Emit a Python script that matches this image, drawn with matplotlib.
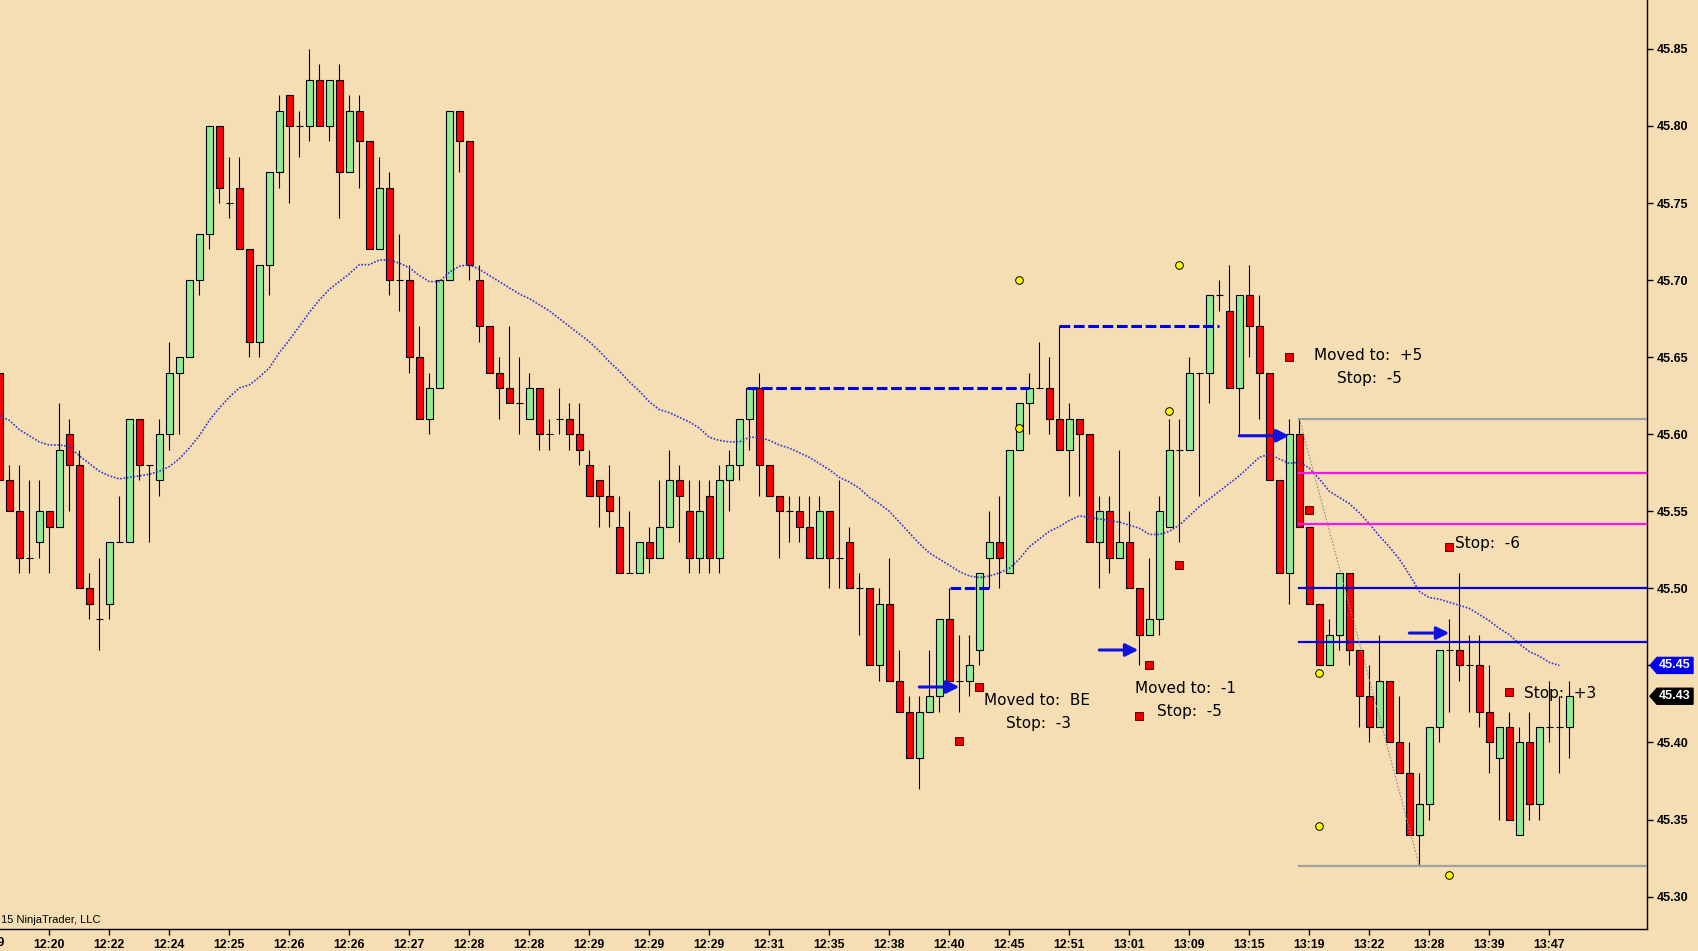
import matplotlib
matplotlib.use('Agg')
import matplotlib.pyplot as plt
import matplotlib.transforms as mtransforms
from matplotlib.patches import Polygon
import numpy as np

# ---------------- data ----------------
opens = [45.64, 45.57, 45.55, 45.52, 45.53, 45.55, 45.54, 45.60, 45.58, 45.50,
         45.48, 45.49, 45.53, 45.53, 45.61, 45.58, 45.57, 45.60, 45.64, 45.65,
         45.70, 45.73, 45.80, 45.75, 45.76, 45.72, 45.66, 45.71, 45.77, 45.82,
         45.80, 45.80, 45.83, 45.80, 45.83, 45.77, 45.81, 45.79, 45.72, 45.76,
         45.70, 45.70, 45.65, 45.61, 45.63, 45.70, 45.81, 45.79, 45.70, 45.67,
         45.64, 45.63, 45.62, 45.61, 45.63, 45.60, 45.61, 45.61, 45.60, 45.58,
         45.57, 45.56, 45.54, 45.51, 45.51, 45.53, 45.52, 45.54, 45.57, 45.55,
         45.52, 45.56, 45.52, 45.57, 45.58, 45.61, 45.63, 45.58, 45.56, 45.55,
         45.55, 45.54, 45.52, 45.55, 45.52, 45.53, 45.50, 45.50, 45.45, 45.49,
         45.44, 45.42, 45.39, 45.42, 45.43, 45.48, 45.44, 45.44, 45.46, 45.52,
         45.53, 45.51, 45.59, 45.62, 45.63, 45.63, 45.61, 45.59, 45.61, 45.60,
         45.53, 45.55, 45.52, 45.53, 45.50, 45.47, 45.48, 45.54, 45.59, 45.59,
         45.64, 45.64, 45.69, 45.68, 45.63, 45.69, 45.67, 45.64, 45.57, 45.51,
         45.60, 45.54, 45.49, 45.45, 45.47, 45.51, 45.46, 45.43, 45.41, 45.44,
         45.40, 45.38, 45.34, 45.36, 45.41, 45.46, 45.46, 45.45, 45.45, 45.42,
         45.39, 45.41, 45.34, 45.40, 45.36, 45.41, 45.41, 45.41]
highs = [45.64, 45.58, 45.58, 45.57, 45.57, 45.55, 45.62, 45.61, 45.59, 45.51,
         45.52, 45.53, 45.56, 45.61, 45.61, 45.58, 45.61, 45.66, 45.65, 45.70,
         45.73, 45.80, 45.80, 45.78, 45.78, 45.72, 45.71, 45.77, 45.82, 45.82,
         45.81, 45.85, 45.84, 45.83, 45.84, 45.82, 45.82, 45.79, 45.78, 45.77,
         45.73, 45.71, 45.67, 45.64, 45.70, 45.81, 45.81, 45.79, 45.71, 45.67,
         45.65, 45.67, 45.65, 45.64, 45.63, 45.61, 45.63, 45.62, 45.62, 45.59,
         45.57, 45.58, 45.56, 45.55, 45.53, 45.54, 45.57, 45.59, 45.58, 45.57,
         45.57, 45.57, 45.58, 45.59, 45.61, 45.63, 45.64, 45.58, 45.56, 45.56,
         45.56, 45.56, 45.56, 45.55, 45.57, 45.54, 45.51, 45.50, 45.50, 45.52,
         45.46, 45.43, 45.43, 45.46, 45.48, 45.50, 45.47, 45.47, 45.51, 45.55,
         45.56, 45.59, 45.62, 45.64, 45.66, 45.65, 45.67, 45.62, 45.61, 45.60,
         45.56, 45.56, 45.59, 45.55, 45.50, 45.52, 45.56, 45.61, 45.61, 45.65,
         45.64, 45.69, 45.70, 45.71, 45.69, 45.71, 45.69, 45.64, 45.57, 45.61,
         45.61, 45.54, 45.49, 45.48, 45.51, 45.51, 45.46, 45.45, 45.47, 45.44,
         45.43, 45.40, 45.38, 45.41, 45.46, 45.48, 45.51, 45.47, 45.47, 45.45,
         45.41, 45.42, 45.41, 45.42, 45.41, 45.44, 45.43, 45.44]
lows = [45.57, 45.55, 45.51, 45.51, 45.52, 45.51, 45.54, 45.55, 45.50, 45.48,
        45.46, 45.48, 45.53, 45.53, 45.57, 45.53, 45.56, 45.59, 45.60, 45.65,
        45.69, 45.72, 45.75, 45.74, 45.72, 45.65, 45.65, 45.69, 45.76, 45.75,
        45.78, 45.79, 45.80, 45.79, 45.74, 45.77, 45.76, 45.72, 45.72, 45.69,
        45.68, 45.64, 45.61, 45.60, 45.63, 45.70, 45.77, 45.70, 45.66, 45.64,
        45.61, 45.62, 45.60, 45.61, 45.59, 45.59, 45.60, 45.59, 45.58, 45.56,
        45.54, 45.54, 45.51, 45.51, 45.51, 45.51, 45.52, 45.54, 45.53, 45.51,
        45.51, 45.51, 45.51, 45.55, 45.57, 45.59, 45.56, 45.56, 45.52, 45.53,
        45.53, 45.52, 45.52, 45.50, 45.50, 45.50, 45.47, 45.45, 45.44, 45.44,
        45.42, 45.39, 45.37, 45.42, 45.42, 45.44, 45.42, 45.43, 45.45, 45.50,
        45.50, 45.51, 45.59, 45.60, 45.63, 45.60, 45.59, 45.56, 45.56, 45.53,
        45.50, 45.51, 45.52, 45.50, 45.45, 45.47, 45.47, 45.54, 45.53, 45.59,
        45.56, 45.62, 45.68, 45.63, 45.60, 45.65, 45.61, 45.57, 45.51, 45.49,
        45.54, 45.49, 45.45, 45.45, 45.46, 45.45, 45.41, 45.40, 45.41, 45.40,
        45.38, 45.34, 45.32, 45.35, 45.40, 45.42, 45.44, 45.42, 45.41, 45.38,
        45.35, 45.35, 45.34, 45.35, 45.35, 45.40, 45.38, 45.39]
closes = [45.57, 45.55, 45.52, 45.52, 45.55, 45.54, 45.59, 45.58, 45.50, 45.49,
          45.48, 45.53, 45.53, 45.61, 45.58, 45.58, 45.60, 45.64, 45.65, 45.70,
          45.73, 45.80, 45.76, 45.75, 45.72, 45.66, 45.71, 45.77, 45.81, 45.80,
          45.80, 45.83, 45.80, 45.83, 45.77, 45.81, 45.79, 45.72, 45.76, 45.70,
          45.70, 45.65, 45.61, 45.63, 45.70, 45.81, 45.79, 45.71, 45.67, 45.64,
          45.63, 45.62, 45.62, 45.63, 45.60, 45.60, 45.61, 45.60, 45.59, 45.56,
          45.56, 45.55, 45.51, 45.51, 45.53, 45.52, 45.54, 45.57, 45.56, 45.52,
          45.55, 45.52, 45.57, 45.58, 45.61, 45.63, 45.58, 45.56, 45.55, 45.55,
          45.54, 45.52, 45.55, 45.52, 45.52, 45.50, 45.50, 45.45, 45.49, 45.44,
          45.42, 45.39, 45.42, 45.43, 45.48, 45.44, 45.44, 45.45, 45.51, 45.53,
          45.52, 45.59, 45.62, 45.63, 45.63, 45.61, 45.59, 45.61, 45.60, 45.53,
          45.55, 45.52, 45.53, 45.50, 45.47, 45.48, 45.55, 45.59, 45.59, 45.64,
          45.64, 45.69, 45.69, 45.63, 45.69, 45.67, 45.64, 45.57, 45.51, 45.60,
          45.54, 45.49, 45.45, 45.47, 45.51, 45.46, 45.43, 45.41, 45.44, 45.40,
          45.38, 45.34, 45.36, 45.41, 45.46, 45.46, 45.45, 45.45, 45.42, 45.40,
          45.41, 45.35, 45.40, 45.36, 45.41, 45.41, 45.41, 45.43]

moving_avg = [45.612, 45.609, 45.603, 45.599, 45.595, 45.593, 45.593, 45.592, 45.586, 45.581,
              45.576, 45.573, 45.571, 45.572, 45.573, 45.574, 45.576, 45.579, 45.584, 45.591,
              45.599, 45.609, 45.617, 45.624, 45.630, 45.632, 45.637, 45.643, 45.653, 45.661,
              45.670, 45.679, 45.687, 45.694, 45.699, 45.704, 45.710, 45.710, 45.713, 45.713,
              45.711, 45.708, 45.703, 45.699, 45.699, 45.705, 45.709, 45.710, 45.707, 45.703,
              45.699, 45.695, 45.691, 45.688, 45.684, 45.680, 45.675, 45.670, 45.665, 45.660,
              45.654, 45.647, 45.641, 45.634, 45.628, 45.621, 45.616, 45.614, 45.611, 45.608,
              45.604, 45.598, 45.596, 45.595, 45.595, 45.598, 45.598, 45.596, 45.593, 45.591,
              45.588, 45.585, 45.581, 45.577, 45.572, 45.569, 45.565, 45.559, 45.555, 45.550,
              45.543, 45.536, 45.529, 45.523, 45.519, 45.515, 45.511, 45.508, 45.507, 45.508,
              45.510, 45.513, 45.519, 45.527, 45.532, 45.537, 45.540, 45.544, 45.547, 45.546,
              45.545, 45.544, 45.543, 45.541, 45.539, 45.535, 45.535, 45.537, 45.541, 45.547,
              45.553, 45.558, 45.563, 45.568, 45.573, 45.579, 45.585, 45.587, 45.584, 45.581,
              45.582, 45.578, 45.571, 45.563, 45.559, 45.555, 45.549, 45.542, 45.534, 45.527,
              45.519, 45.509, 45.498, 45.494, 45.493, 45.491, 45.489, 45.487, 45.483, 45.479,
              45.474, 45.470, 45.464, 45.459, 45.456, 45.452, 45.450]

tick_positions = [5, 11, 17, 23, 29, 35, 41, 47, 53, 59, 65, 71, 77, 83, 89, 95,
                  101, 107, 113, 119, 125, 131, 137, 143, 149, 155]
tick_labels = ['12:20', '12:22', '12:24', '12:25', '12:26', '12:26', '12:27', '12:28',
               '12:28', '12:29', '12:29', '12:29', '12:31', '12:35', '12:38', '12:40',
               '12:45', '12:51', '13:01', '13:09', '13:15', '13:19', '13:22', '13:28',
               '13:39', '13:47']
price_ticks = [45.30, 45.35, 45.40, 45.45, 45.50, 45.55, 45.60, 45.65, 45.70, 45.75, 45.80, 45.85]

# dashed entry lines: (start bar, end bar, price)
dash_x0 = [74.8, 95.1, 106.0]
dash_x1 = [103.0, 99.0, 122.0]
dash_y = [45.63, 45.50, 45.67]

# arrows: (start bar, end bar, price)
arrow_x0 = [92.0, 110.0, 124.0, 141.0]
arrow_x1 = [96.0, 113.9, 129.0, 145.0]
arrow_y = [45.436, 45.460, 45.599, 45.471]

# horizontal levels starting at bar 130
level_start = 130
level_prices = [45.61, 45.575, 45.542, 45.50, 45.465, 45.32]
level_colors = ['#A0A0A0', '#FF10FF', '#FF10FF', '#0000E0', '#0000E0', '#A0A0A0']

# diagonal gray line
diag_x = [130, 142]
diag_y = [45.61, 45.32]

# markers
yellow_x = [102, 102, 118, 117, 132, 132, 145]
yellow_y = [45.700, 45.604, 45.710, 45.615, 45.445, 45.346, 45.314]
square_x = [98, 96, 118, 115, 114, 129, 131, 145, 151]
square_y = [45.436, 45.401, 45.515, 45.450, 45.417, 45.650, 45.551, 45.527, 45.433]

# annotations
note_text = ['Moved to:  BE', 'Stop:  -3', 'Moved to:  -1', 'Stop:  -5',
             'Moved to:  +5', 'Stop:  -5', 'Stop:  -6', 'Stop:  +3']
note_x = [98.45, 100.7, 113.6, 115.8, 131.5, 133.8, 145.6, 152.5]
note_y = [45.427, 45.412, 45.435, 45.420, 45.651, 45.636, 45.529, 45.432]

# ---------------- figure ----------------
W, H = 1699, 951
fig = plt.figure(figsize=(W / 100, H / 100), dpi=100)
bg = '#F5DEB3'
fig.patch.set_facecolor(bg)
ax = fig.add_axes([0, 22 / H, 1647 / W, 929 / H])
ax.set_facecolor(bg)

o = np.array(opens); hi = np.array(highs); lo = np.array(lows); c = np.array(closes)
n = len(o)
x = np.arange(n)

ax.vlines(x, lo, hi, color='black', lw=0.8, zorder=2)
nd = o != c
cols = np.where(c > o, '#90EE90', '#FF0000')
ax.bar(x[nd], np.abs(c - o)[nd], bottom=np.minimum(o, c)[nd], width=0.66,
       color=cols[nd], edgecolor='black', linewidth=0.8, zorder=3)
d = ~nd
ax.hlines(o[d], x[d] - 0.33, x[d] + 0.33, color='black', lw=0.8, zorder=3)

# moving average
ax.plot(np.arange(len(moving_avg)), moving_avg, color='#3535D5', lw=1.2,
        linestyle=(0, (1, 1)), zorder=4)

# dashed lines
for x0, x1, y in zip(dash_x0, dash_x1, dash_y):
    ax.plot([x0, x1], [y, y], color='#0000DD', lw=2.2, linestyle=(0, (3.5, 1.2)), zorder=5)

# levels
for y, col in zip(level_prices, level_colors):
    ax.plot([level_start, 170], [y, y], color=col, lw=1.6, zorder=5)

ax.plot(diag_x, diag_y, color='#8C8C8C', lw=0.8, linestyle=(0, (1.5, 1.5)), zorder=5)

# arrows
for x0, x1, y in zip(arrow_x0, arrow_x1, arrow_y):
    ax.annotate('', xy=(x1, y), xytext=(x0, y),
                arrowprops=dict(arrowstyle='-|>', color='#1010E0', lw=2.2,
                                mutation_scale=19, shrinkA=0, shrinkB=0), zorder=6)

ax.plot(yellow_x, yellow_y, 'o', ms=5.5, mfc='#FFFF00', mec='black', mew=0.7,
        linestyle='none', zorder=7)
ax.plot(square_x, square_y, 's', ms=5.8, mfc='#EE0000', mec='#600000', mew=0.7,
        linestyle='none', zorder=7)

for t, tx, ty in zip(note_text, note_x, note_y):
    ax.text(tx, ty, t, fontsize=11, family='DejaVu Sans', color='black',
            ha='left', va='center', zorder=8)

# axes setup
ax.set_xlim(0.07, 164.77)
ax.set_ylim(45.279, 45.8817)
for s in ['top', 'left']:
    ax.spines[s].set_visible(False)
for s in ['bottom', 'right']:
    ax.spines[s].set_color('black')
    ax.spines[s].set_linewidth(1.0)

ax.set_xticks(tick_positions)
ax.set_xticklabels(tick_labels)
ax.yaxis.tick_right()
ax.set_yticks(price_ticks)
ax.set_yticklabels([f'{p:.2f}' for p in price_ticks])
ax.tick_params(axis='x', length=4, width=1, pad=3, labelsize=8.8)
ax.tick_params(axis='y', length=4, width=1, pad=3, labelsize=9)
for lab in ax.get_xticklabels() + ax.get_yticklabels():
    lab.set_fontfamily('Liberation Sans')
    lab.set_fontweight('bold')

# partly visible label at the far left (as in the reference, only its end shows)
ax.text(-1, -0.0085, '12:19', transform=mtransforms.blended_transform_factory(ax.transData, ax.transAxes),
        ha='center', va='top', fontsize=8.8, fontweight='bold', family='Liberation Sans',
        clip_on=False)

ax.text(0.0005, 0.004, '15 NinjaTrader, LLC', transform=ax.transAxes, fontsize=8,
        family='Liberation Sans', ha='left', va='bottom')

# price tags on the axis
tr = mtransforms.blended_transform_factory(ax.transAxes, ax.transData)
aw = 1647.0
hh = 8.0 / 1540.5
def tag(price, face):
    pts = [(1650 / aw, price), (1657 / aw, price + hh), (1693 / aw, price + hh),
           (1693 / aw, price - hh), (1657 / aw, price - hh)]
    poly = Polygon(pts, closed=True, transform=tr, facecolor=face, edgecolor=face,
                   clip_on=False, zorder=20)
    ax.add_patch(poly)
    ax.text(1675 / aw, price, f'{price:.2f}', transform=tr, color='white', fontsize=9,
            fontweight='bold', family='Liberation Sans', ha='center', va='center',
            clip_on=False, zorder=21)

tag(round(moving_avg[-1], 2), '#0000EE')
tag(closes[-1], '#000000')

fig.savefig('out.png', dpi=100, facecolor=bg)
